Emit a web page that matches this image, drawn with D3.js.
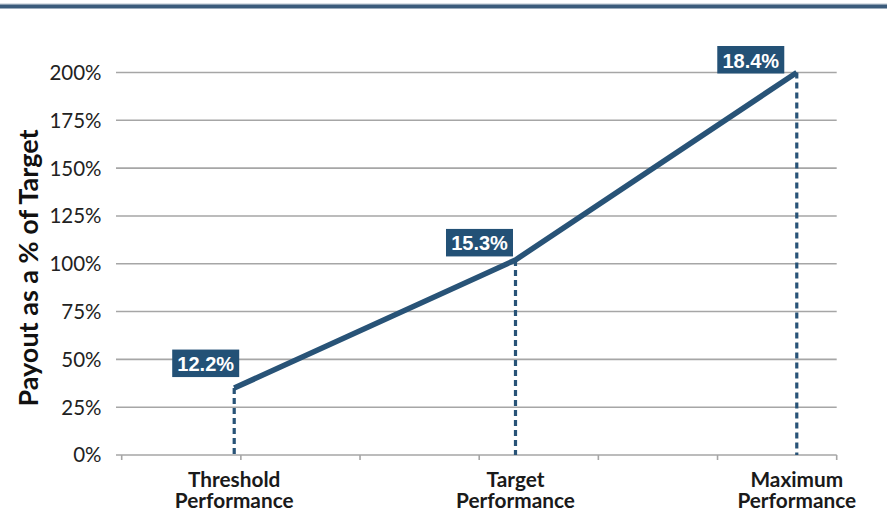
<!DOCTYPE html>
<html><head><meta charset="utf-8">
<script src="https://cdn.jsdelivr.net/npm/d3@7"></script>
<style>body{margin:0;background:#fff;}svg{display:block;}</style>
</head><body>
<script>
const categories = ["Threshold Performance", "Target Performance", "Maximum Performance"];
const performance = [12.2, 15.3, 18.4];        // x values (performance, %)
const payout = [35, 102, 200];                 // payout as % of target
const perfLabels = ["12.2%", "15.3%", "18.4%"];
const yTicks = [0, 25, 50, 75, 100, 125, 150, 175, 200];
const xDomain = [10.96, 18.84];

// layout: label box nudges relative to each point (right edge dx, bottom edge dy)
const labelNudge = [[5, -11], [-2.5, -3.5], [-12.5, 1]];

const W = 887, H = 510;
const svg = d3.select("body").append("svg").attr("width", W).attr("height", H);
const navy = "#285377", boxFill = "#235176";
const font = "Lato, 'Open Sans', sans-serif";

svg.append("rect").attr("x",0).attr("y",3.5).attr("width",W).attr("height",1).attr("fill","#b8c3cf");
svg.append("rect").attr("x",0).attr("y",4.5).attr("width",W).attr("height",4).attr("fill","#3b5b7b");

const x = d3.scaleLinear().domain(xDomain).range([121.7, 836.7]);
const y = d3.scaleLinear().domain([0, 200]).range([455, 72.5]);
const gridLeft = 116, gridRight = 836.7;

svg.append("g").selectAll("line").data(yTicks).join("line")
  .attr("x1", gridLeft).attr("x2", gridRight)
  .attr("y1", d => y(d)).attr("y2", d => y(d))
  .attr("stroke", "#a6a6a6").attr("stroke-width", 1.6);

svg.append("g").selectAll("text").data(yTicks).join("text")
  .attr("x", 101.5).attr("y", d => y(d)).attr("dy", "0.36em")
  .attr("text-anchor", "end").attr("fill", "#222")
  .style("font-family", font).style("font-size", "20.5px")
  .text(d => d + "%");

const step = (xDomain[1] - xDomain[0]) / 6;
const xTicks = d3.range(7).map(i => xDomain[0] + i * step);
svg.append("g").selectAll("line").data(xTicks).join("line")
  .attr("x1", d => x(d)).attr("x2", d => x(d))
  .attr("y1", y(0)).attr("y2", y(0) + 5)
  .attr("stroke", "#a6a6a6").attr("stroke-width", 1.6);

svg.append("text")
  .attr("transform", `translate(37.5,268) rotate(-90)`)
  .attr("text-anchor", "middle").attr("fill", "#111")
  .style("font-family", font).style("font-size", "27px").style("font-weight", "bold")
  .text("Payout as a % of Target");

const pts = performance.map((p, i) => ({ x: p, y: payout[i], cat: categories[i], lab: perfLabels[i], n: labelNudge[i] }));

svg.append("g").selectAll("line").data(pts).join("line")
  .attr("x1", d => x(d.x)).attr("x2", d => x(d.x))
  .attr("y1", d => y(d.y)).attr("y2", y(0))
  .attr("stroke", navy).attr("stroke-width", 3.2).attr("stroke-dasharray", "6,4");

svg.append("path").datum(pts)
  .attr("d", d3.line().x(d => x(d.x)).y(d => y(d.y)))
  .attr("fill", "none").attr("stroke", navy).attr("stroke-width", 5.5)
  .attr("stroke-linejoin", "round");

const catG = svg.append("g").selectAll("text").data(pts).join("text")
  .attr("x", d => x(d.x)).attr("y", 486.5)
  .attr("text-anchor", "middle").attr("fill", "#1a1a1a")
  .style("font-family", font).style("font-size", "20.8px").style("font-weight", "bold");
catG.each(function(d) {
  const words = d.cat.split(" ");
  const t = d3.select(this);
  words.forEach((w, i) => t.append("tspan").attr("x", x(d.x)).attr("dy", i === 0 ? 0 : 21).text(w));
});

const lg = svg.append("g").selectAll("g").data(pts).join("g")
  .attr("transform", d => `translate(${x(d.x) + d.n[0]},${y(d.y) + d.n[1]})`);
lg.append("rect").attr("x", -67).attr("y", -27.5).attr("width", 67).attr("height", 27.5).attr("fill", boxFill);
lg.append("text").attr("x", -33.5).attr("y", -6).attr("text-anchor", "middle").attr("fill", "#fff")
  .style("font-family", "'Liberation Sans', Arial, sans-serif").style("font-size", "20px").style("font-weight", "bold")
  .text(d => d.lab);
</script>
</body></html>
